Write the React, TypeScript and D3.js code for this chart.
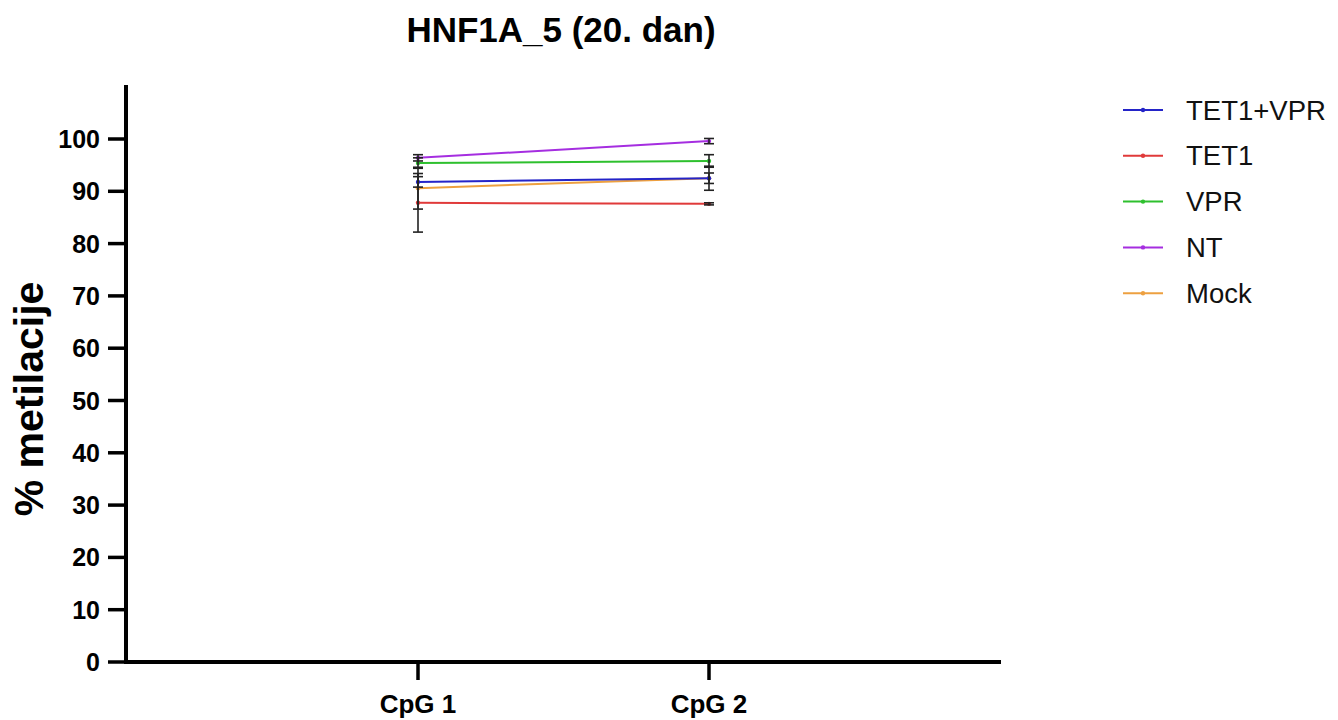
import React from "react";
import * as d3 from "d3";

const categories = ["CpG 1", "CpG 2"];
const seriesNames = ["TET1+VPR", "TET1", "VPR", "NT", "Mock"];
const seriesColors = ["#2424c8", "#e03a3a", "#2ec02e", "#a52ee0", "#eda040"];
const meanTET1VPR = [91.8, 92.5];
const meanTET1 = [87.8, 87.6];
const meanVPR = [95.4, 95.8];
const meanNT = [96.4, 99.6];
const meanMock = [90.6, 92.5];
const errTET1VPR = [1.0, 1.0];
const errTET1 = [5.6, 0.2];
const errVPR = [1.0, 1.2];
const errNT = [0.6, 0.5];
const errMock = [4.0, 2.3];
const yTicks = [0, 10, 20, 30, 40, 50, 60, 70, 80, 90, 100];

const means = [meanTET1VPR, meanTET1, meanVPR, meanNT, meanMock];
const errs = [errTET1VPR, errTET1, errVPR, errNT, errMock];

export default function App() {
  const W = 1338, H = 720;
  const x0 = 126, yBottom = 662;
  const y = d3.scaleLinear().domain([0, 100]).range([yBottom, 139]);
  const x = d3.scalePoint().domain(categories).range([418, 709]);
  const line = d3.line<number>().x((_, i) => x(categories[i])!).y((v) => y(v));
  const font = "Liberation Sans, Arial, sans-serif";
  const drawOrder = [4, 1, 0, 2, 3];
  return (
    <svg width={W} height={H} style={{ position: "absolute", left: 0, top: 0 }} fontFamily={font}>
      <rect width={W} height={H} fill="#fff" />
      <text x={561} y={42} textAnchor="middle" fontSize={35} fontWeight="bold">HNF1A_5 (20. dan)</text>
      <text transform={`translate(43,${399}) rotate(-90)`} textAnchor="middle" fontSize={41} fontWeight="bold">% metilacije</text>
      {/* y axis */}
      <line x1={x0} x2={x0} y1={85} y2={yBottom + 2} stroke="#000" strokeWidth={4} />
      {yTicks.map((t) => (
        <g key={t}>
          <line x1={x0 - 18} x2={x0} y1={y(t)} y2={y(t)} stroke="#000" strokeWidth={3.5} />
          <text x={100} y={y(t) + 9} textAnchor="end" fontSize={25} fontWeight="bold">{t}</text>
        </g>
      ))}
      {/* x axis */}
      <line x1={x0 - 2} x2={1001} y1={yBottom} y2={yBottom} stroke="#000" strokeWidth={4} />
      {categories.map((c) => (
        <g key={c}>
          <line x1={x(c)} x2={x(c)} y1={yBottom} y2={yBottom + 18} stroke="#000" strokeWidth={3.5} />
          <text x={x(c)} y={713} textAnchor="middle" fontSize={26} fontWeight="bold">{c}</text>
        </g>
      ))}
      {/* series lines */}
      {drawOrder.map((si) => (
        <g key={seriesNames[si]}>
          <path d={line(means[si]) || ""} fill="none" stroke={seriesColors[si]} strokeWidth={2} />
          {means[si].map((v, i) => (
            <circle key={i} cx={x(categories[i])} cy={y(v)} r={2.2} fill={seriesColors[si]} />
          ))}
        </g>
      ))}
      {/* error bars */}
      {drawOrder.map((si) => (
        <g key={"e" + si}>
          {means[si].map((v, i) => {
            const cx = x(categories[i])!;
            const e = errs[si][i];
            return (
              <g key={i} stroke="#222" strokeWidth={1.6}>
                <line x1={cx} x2={cx} y1={y(v + e)} y2={y(v - e)} />
                <line x1={cx - 5} x2={cx + 5} y1={y(v + e)} y2={y(v + e)} />
                <line x1={cx - 5} x2={cx + 5} y1={y(v - e)} y2={y(v - e)} />
              </g>
            );
          })}
        </g>
      ))}
      {/* legend */}
      {seriesNames.map((n, i) => {
        const ly = 110 + i * 45.8;
        return (
          <g key={n}>
            <line x1={1123} x2={1163} y1={ly} y2={ly} stroke={seriesColors[i]} strokeWidth={2} />
            <circle cx={1143} cy={ly} r={2.2} fill={seriesColors[i]} />
            <text x={1186} y={ly + 9.5} fontSize={27.5} fill="#111">{n}</text>
          </g>
        );
      })}
    </svg>
  );
}
